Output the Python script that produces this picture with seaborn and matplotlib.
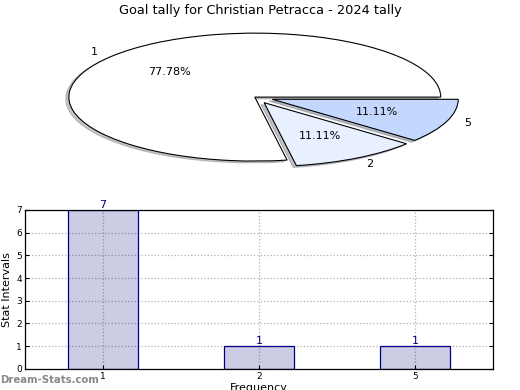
import matplotlib
matplotlib.use("Agg")
import matplotlib.pyplot as plt
import seaborn as sns
import pandas as pd

# goal tally data
goals = ["1", "2", "5"]
games = [7, 1, 1]
pie_colors = ["#ffffff", "#e8f0ff", "#c4d8ff"]

sns.set_style("white", {"text.color": "black", "axes.labelcolor": "black",
                        "xtick.color": "black", "ytick.color": "black"})
plt.rcParams['font.family'] = ['DejaVu Sans']

fig = plt.figure(figsize=(5.2, 3.9), dpi=100)

# pie on top, squashed
ax1 = fig.add_axes([0.043, 0.546, 0.894, 0.41])
ax1.pie(games, labels=goals, colors=pie_colors, autopct="%.2f%%",
        explode=[0, 0.1, 0.1], startangle=0,
        shadow=dict(ox=-0.012, oy=-0.02, shade=0.45),
        wedgeprops=dict(edgecolor="black", linewidth=0.8),
        textprops=dict(fontsize=8, color="black"))
ax1.set_aspect("auto")
ax1.set_xlim(-1.25, 1.25)
ax1.set_ylim(-1.25, 1.25)
fig.text(0.5, 0.974, "Goal tally for Christian Petracca - 2024 tally",
         ha="center", va="center", fontsize=9.3, color="black")

# bar chart below
df = pd.DataFrame({"goals": goals, "games": games})
ax2 = fig.add_axes([0.048, 0.054, 0.9, 0.408])
sns.barplot(data=df, x="goals", y="games", color="navy", width=0.45,
            edgecolor="navy", linewidth=0.9, ax=ax2)
for p in ax2.patches:
    p.set_facecolor((0, 0, 0.5, 0.2))
for i, v in enumerate(games):
    ax2.text(i, v, str(v), ha="center", va="bottom", color="navy", fontsize=8)

ax2.set_ylim(0, 7)
ax2.set_xlim(-0.5, 2.5)
ax2.grid(True, linestyle=":", color="#b0b0b0", linewidth=0.9)
ax2.tick_params(labelsize=6.5, direction="in", length=3, pad=2,
                right=True, left=True, bottom=True)
for s in ax2.spines.values():
    s.set_color("black")
    s.set_linewidth(0.9)
ax2.set_ylabel("Stat Intervals", fontsize=8, labelpad=3)
ax2.set_xlabel("Frequency", fontsize=8, labelpad=2)

fig.text(0.0, 0.025, "Dream-Stats.com", color="#888888", fontsize=7.3,
         fontweight="bold", ha="left", va="center")

fig.savefig("out.png", dpi=100)
